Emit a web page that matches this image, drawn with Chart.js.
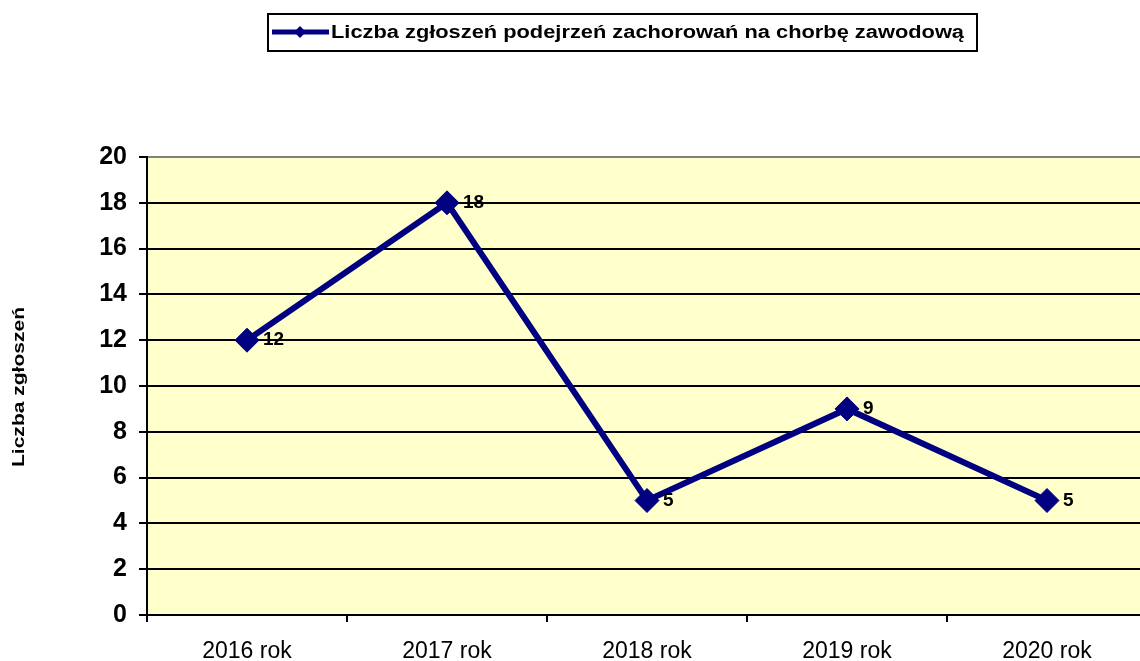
<!DOCTYPE html>
<html>
<head>
<meta charset="utf-8">
<script src="https://cdn.jsdelivr.net/npm/chart.js@4.4.1/dist/chart.umd.min.js"></script>
<style>
  html, body { margin: 0; padding: 0; background: #fff; overflow: hidden; width: 1140px; height: 661px; }
  canvas { display: block; }
</style>
</head>
<body>
<canvas id="c" width="1160" height="661"></canvas>
<script>
const categories = ['2016 rok', '2017 rok', '2018 rok', '2019 rok', '2020 rok'];
const seriesName = 'Liczba zgłoszeń podejrzeń zachorowań na chorbę zawodową';
const seriesValues = [12, 18, 5, 9, 5];
const yTitle = 'Liczba zgłoszeń';
const yMin = 0, yMax = 20, yStep = 2;

const FONT = "'Liberation Sans', Arial, sans-serif";
const NAVY = '#000080';

const bgPlugin = {
  id: 'plotBg',
  beforeDraw(chart) {
    const a = chart.chartArea, ctx = chart.ctx;
    ctx.save();
    ctx.fillStyle = '#FFFFCC';
    ctx.fillRect(a.left, a.top, a.right - a.left, a.bottom - a.top);
    ctx.restore();
  }
};

const labelPlugin = {
  id: 'valueLabels',
  afterDatasetsDraw(chart) {
    const ctx = chart.ctx;
    const meta = chart.getDatasetMeta(0);
    ctx.save();
    ctx.font = 'bold 19px ' + FONT;
    ctx.fillStyle = '#000';
    ctx.textAlign = 'left';
    ctx.textBaseline = 'middle';
    meta.data.forEach((pt, i) => {
      ctx.fillText(String(chart.data.datasets[0].data[i]), pt.x + 16, pt.y);
    });
    ctx.restore();
  }
};

const decorPlugin = {
  id: 'decor',
  afterDraw(chart) {
    const ctx = chart.ctx;
    ctx.save();
    // legend box
    ctx.strokeStyle = '#000';
    ctx.lineWidth = 2;
    ctx.strokeRect(268, 14, 709, 37);
    // legend icon
    ctx.strokeStyle = NAVY;
    ctx.lineWidth = 5;
    ctx.beginPath();
    ctx.moveTo(272, 32);
    ctx.lineTo(329, 32);
    ctx.stroke();
    ctx.fillStyle = NAVY;
    ctx.beginPath();
    ctx.moveTo(300, 26); ctx.lineTo(306, 32); ctx.lineTo(300, 38); ctx.lineTo(294, 32);
    ctx.closePath(); ctx.fill();
    // legend text
    ctx.fillStyle = '#000';
    ctx.font = 'bold 18px ' + FONT;
    ctx.textAlign = 'left';
    ctx.textBaseline = 'middle';
    const w = ctx.measureText(seriesName).width;
    ctx.save();
    ctx.translate(331, 33);
    ctx.scale(633 / w, 1);
    ctx.fillText(seriesName, 0, 0);
    ctx.restore();
    // y axis title
    ctx.font = 'bold 17px ' + FONT;
    const tw = ctx.measureText(yTitle).width;
    ctx.save();
    ctx.translate(19, 387);
    ctx.rotate(-Math.PI / 2);
    ctx.scale(160 / tw, 1);
    ctx.textAlign = 'center';
    ctx.fillText(yTitle, 0, 0);
    ctx.restore();
    ctx.restore();
  }
};

new Chart(document.getElementById('c'), {
  type: 'line',
  data: {
    labels: categories,
    datasets: [{
      label: seriesName,
      data: seriesValues,
      borderColor: NAVY,
      backgroundColor: NAVY,
      borderWidth: 6,
      pointStyle: 'rectRot',
      pointRadius: 12,
      pointHoverRadius: 12,
      pointBackgroundColor: NAVY,
      pointBorderColor: NAVY,
      pointBorderWidth: 1,
      tension: 0,
      fill: false
    }]
  },
  options: {
    responsive: false,
    animation: false,
    devicePixelRatio: 1,
    layout: { padding: { top: 157, right: 2, bottom: 0, left: 0 } },
    plugins: {
      legend: { display: false },
      tooltip: { enabled: false },
      title: { display: false }
    },
    scales: {
      x: {
        offset: true,
        afterFit(scale) { scale.height = 46; },
        grid: {
          offset: true,
          drawOnChartArea: false,
          drawTicks: true,
          tickLength: 7,
          color: '#000',
          lineWidth: 2
        },
        border: { color: '#000', width: 2 },
        ticks: {
          color: '#000',
          font: { family: FONT, size: 23 },
          padding: 16,
          maxRotation: 0
        }
      },
      y: {
        min: yMin,
        max: yMax,
        afterFit(scale) { scale.width = 147; },
        grid: {
          color: (c) => (c.tick && c.tick.value === yMax) ? '#808080' : '#000',
          lineWidth: 2,
          tickLength: 8,
          tickColor: '#000'
        },
        border: { color: '#000', width: 2 },
        ticks: {
          stepSize: yStep,
          color: '#000',
          font: { family: FONT, size: 25, weight: 'bold' },
          padding: 12
        }
      }
    }
  },
  plugins: [bgPlugin, labelPlugin, decorPlugin]
});
</script>
</body>
</html>
